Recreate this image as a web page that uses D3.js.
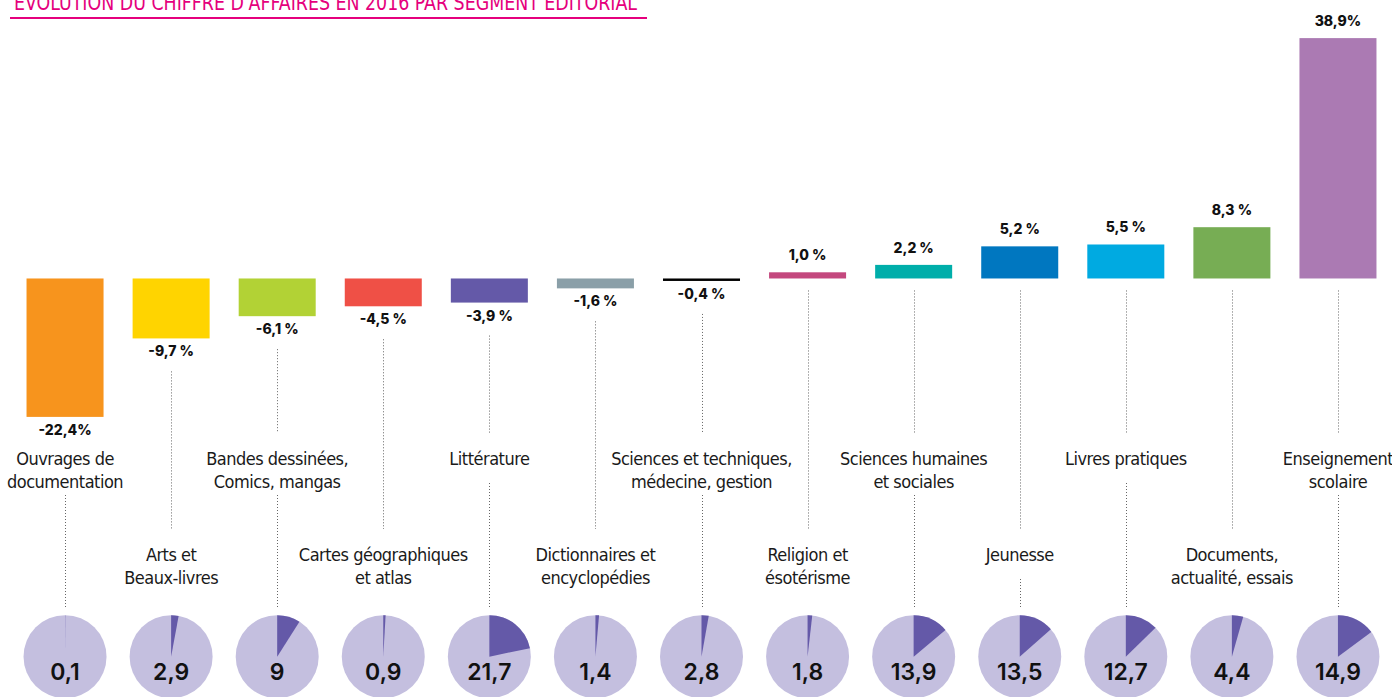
<!DOCTYPE html>
<html>
<head>
<meta charset="utf-8">
<script src="https://cdn.jsdelivr.net/npm/d3@7"></script>
<style>
  body { margin: 0; background: #fff; }
  .cat { font-family: "Liberation Sans Narrow", "DejaVu Sans Condensed", sans-serif; font-stretch: condensed; font-size: 18px; letter-spacing: -0.5px; fill: #1a1a1a; }
  .val { font-family: Inter, "Open Sans", sans-serif; font-weight: 800; font-size: 14px; fill: #111; }
  .pie { font-family: Inter, "Open Sans", sans-serif; font-weight: 600; font-size: 23px; fill: #111; }
</style>
</head>
<body>
<div id="chart"></div>
<script>
// segments, in display order
var categories = [
  ["Ouvrages de", "documentation"],
  ["Arts et", "Beaux-livres"],
  ["Bandes dessinées,", "Comics, mangas"],
  ["Cartes géographiques", "et atlas"],
  ["Littérature"],
  ["Dictionnaires et", "encyclopédies"],
  ["Sciences et techniques,", "médecine, gestion"],
  ["Religion et", "ésotérisme"],
  ["Sciences humaines", "et sociales"],
  ["Jeunesse"],
  ["Livres pratiques"],
  ["Documents,", "actualité, essais"],
  ["Enseignement", "scolaire"]
];
// évolution du CA 2016 (%)
var evolution = [-22.4, -9.7, -6.1, -4.5, -3.9, -1.6, -0.4, 1.0, 2.2, 5.2, 5.5, 8.3, 38.9];
var evolutionLabels = ["-22,4%", "-9,7 %", "-6,1 %", "-4,5 %", "-3,9 %", "-1,6 %", "-0,4 %", "1,0 %", "2,2 %", "5,2 %", "5,5 %", "8,3 %", "38,9%"];
// part du CA total (%)
var share = [0.1, 2.9, 9, 0.9, 21.7, 1.4, 2.8, 1.8, 13.9, 13.5, 12.7, 4.4, 14.9];
var shareLabels = ["0,1", "2,9", "9", "0,9", "21,7", "1,4", "2,8", "1,8", "13,9", "13,5", "12,7", "4,4", "14,9"];
var colors = ["#f7941d", "#ffd400", "#b2d235", "#ef5046", "#6459a8", "#8a9fa8", "#000000",
              "#c4487e", "#00aeaa", "#0077c0", "#00aae1", "#77ad54", "#ab7ab3"];

var W = 1392, H = 697;
var svg = d3.select("#chart").append("svg")
    .attr("width", W)
    .attr("height", H);

var idx = d3.range(categories.length);

var x = d3.scaleBand()
    .domain(idx)
    .range([12, 1391])
    .paddingInner(0.274)
    .paddingOuter(0.137);

var y = d3.scaleLinear()
    .domain([-22.4, 38.9])
    .range([416.9, 38.1]);

function cx(i) { return x(i) + x.bandwidth() / 2; }

// title (cut at top, like the source)
svg.append("text")
    .attr("x", 14)
    .attr("y", 9.5)
    .attr("textLength", 623)
    .attr("lengthAdjust", "spacingAndGlyphs")
    .style("font-family", "'Liberation Sans Narrow', 'DejaVu Sans Condensed', sans-serif")
    .style("font-size", "22px")
    .style("fill", "#e5007d")
    .text("ÉVOLUTION DU CHIFFRE D'AFFAIRES EN 2016 PAR SEGMENT ÉDITORIAL");
svg.append("line")
    .attr("x1", 10).attr("x2", 647)
    .attr("y1", 18).attr("y2", 18)
    .style("stroke", "#e5007d")
    .style("stroke-width", 2);

// bars
svg.selectAll(".bar")
    .data(idx)
    .enter().append("rect")
    .attr("class", "bar")
    .attr("x", function(i) { return x(i); })
    .attr("y", function(i) { return y(Math.max(0, evolution[i])); })
    .attr("width", x.bandwidth())
    .attr("height", function(i) { return Math.abs(y(evolution[i]) - y(0)); })
    .attr("fill", function(i) { return colors[i]; });

// value labels
function valBase(i) {
    var v = evolution[i];
    return v < 0 ? y(v) + 18 : y(v) - 12;
}
svg.selectAll(".val")
    .data(idx)
    .enter().append("text")
    .attr("class", "val")
    .attr("text-anchor", "middle")
    .attr("x", cx)
    .attr("y", valBase)
    .text(function(i) { return evolutionLabels[i]; });

// category labels, alternating up / down
var upBase = 465, downBase = 561, lineGap = 22.5;
function labelBase(i) { return i % 2 === 0 ? upBase : downBase; }

var lab = svg.selectAll(".cat")
    .data(idx)
    .enter().append("text")
    .attr("class", "cat")
    .attr("text-anchor", "middle");
lab.selectAll("tspan")
    .data(function(i) { return categories[i].map(function(s, k) { return {i: i, k: k, s: s}; }); })
    .enter().append("tspan")
    .attr("x", function(d) { return cx(d.i); })
    .attr("y", function(d) { return labelBase(d.i) + d.k * lineGap; })
    .text(function(d) { return d.s; });

// dotted leaders
var segs = [];
idx.forEach(function(i) {
    var top = evolution[i] < 0 ? valBase(i) + 15 : y(0) + 12;
    var end = labelBase(i) - 32;
    if (end - top > 4) segs.push({i: i, y1: top, y2: end});
    var n = categories[i].length;
    if (i % 2 === 0 || n === 1) {
        segs.push({i: i, y1: labelBase(i) + 18 + (n - 1) * 12, y2: 608});
    }
});
svg.selectAll(".lead")
    .data(segs)
    .enter().append("line")
    .attr("class", "lead")
    .attr("x1", function(d) { return Math.round(cx(d.i)) + 0.5; })
    .attr("x2", function(d) { return Math.round(cx(d.i)) + 0.5; })
    .attr("y1", function(d) { return d.y1; })
    .attr("y2", function(d) { return d.y2; })
    .style("stroke", "#666")
    .style("stroke-width", 1)
    .style("stroke-dasharray", "1,2");

// pies
var R = 41.5, pieY = 656.7;
var arc = d3.arc().innerRadius(0).outerRadius(R);
var pies = svg.selectAll(".pieg")
    .data(idx)
    .enter().append("g")
    .attr("class", "pieg")
    .attr("transform", function(i) { return "translate(" + cx(i) + "," + pieY + ")"; });
pies.append("circle")
    .attr("r", R)
    .attr("fill", "#c4bfdf");
pies.append("path")
    .attr("d", function(i) { return arc({startAngle: 0, endAngle: 2 * Math.PI * share[i] / 100}); })
    .attr("fill", "#6459a8");
pies.append("text")
    .attr("class", "pie")
    .attr("text-anchor", "middle")
    .attr("y", 23.5)
    .text(function(i) { return shareLabels[i]; });
</script>
</body>
</html>
